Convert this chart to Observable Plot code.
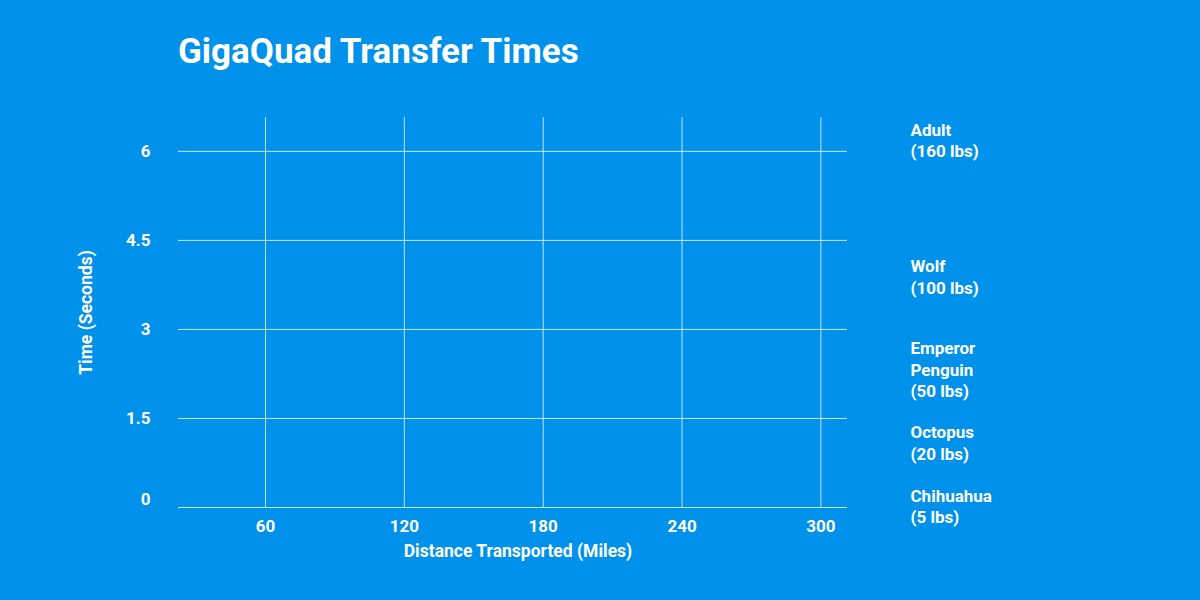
<!DOCTYPE html>
<html>
<head>
<meta charset="utf-8">
<script src="https://cdn.jsdelivr.net/npm/d3@7"></script>
<script src="https://cdn.jsdelivr.net/npm/@observablehq/plot@0.6"></script>
<style>
  html, body { margin: 0; padding: 0; background: #0091EA; width: 1200px; height: 600px; overflow: hidden; }
  #wrap { position: relative; width: 1200px; height: 600px; }
  #title { position: absolute; left: 178px; top: 34px; font-family: Roboto, sans-serif; font-weight: 700; font-size: 35px; line-height: 35px; color: #fff; margin: 0; }
  #chart { position: absolute; left: 0; top: 100px; }
</style>
</head>
<body>
<div id="wrap">
  <h1 id="title">GigaQuad Transfer Times</h1>
  <div id="chart"></div>
</div>
<script>
const title = "GigaQuad Transfer Times";
const xLabel = "Distance Transported (Miles)";
const yLabel = "Time (Seconds)";
const xTicks = [60, 120, 180, 240, 300];
const yTicks = [0, 1.5, 3, 4.5, 6];
const seriesNames = ["Adult\n(160 lbs)", "Wolf\n(100 lbs)", "Emperor\nPenguin\n(50 lbs)", "Octopus\n(20 lbs)", "Chihuahua\n(5 lbs)"];
const seriesEndY = [6.2, 3.9, 2.34, 1.1, 0.03];

const labelRows = seriesNames.map((name, i) => ({name, y: seriesEndY[i]}));

const chart = Plot.plot({
  width: 1200,
  height: 500,
  marginLeft: 178,
  marginRight: 353,
  marginTop: 17,
  marginBottom: 93,
  style: {background: "transparent", color: "white", fontFamily: "Roboto, sans-serif", overflow: "visible"},
  x: {domain: [22.4, 311.5]},
  y: {domain: [0, 6.57]},
  marks: [
    Plot.gridX(xTicks, {stroke: "white", strokeOpacity: 0.75, strokeWidth: 1}),
    Plot.gridY(yTicks, {stroke: "white", strokeOpacity: 0.8, strokeWidth: 1}),
    Plot.axisX(xTicks, {tickSize: 0, tickPadding: 12, fontSize: 17, fontWeight: 700, fill: "white", label: null}),
    Plot.axisY(yTicks.filter(d => d > 0), {tickSize: 0, tickPadding: 28, fontSize: 17, fontWeight: 700, fill: "white", label: null, tickFormat: d => String(d)}),
    Plot.axisY(yTicks.filter(d => d === 0), {tickSize: 0, tickPadding: 28, dy: -8, fontSize: 17, fontWeight: 700, fill: "white", label: null, tickFormat: d => String(d)}),
    Plot.text([xLabel], {frameAnchor: "bottom", dy: 44, dx: 5, lineAnchor: "middle", fontSize: 17.5, fontWeight: 700, fill: "white"}),
    Plot.text([yLabel], {frameAnchor: "left", dx: -92, rotate: -90, lineAnchor: "middle", textAnchor: "middle", fontSize: 17.5, fontWeight: 700, fill: "white"}),
    Plot.text(labelRows, {y: "y", text: "name", frameAnchor: "right", dx: 63, textAnchor: "start", lineAnchor: "middle", lineHeight: 1.27, fontSize: 17, fontWeight: 700, fill: "white"})
  ]
});
document.getElementById("chart").appendChild(chart);
</script>
</body>
</html>
